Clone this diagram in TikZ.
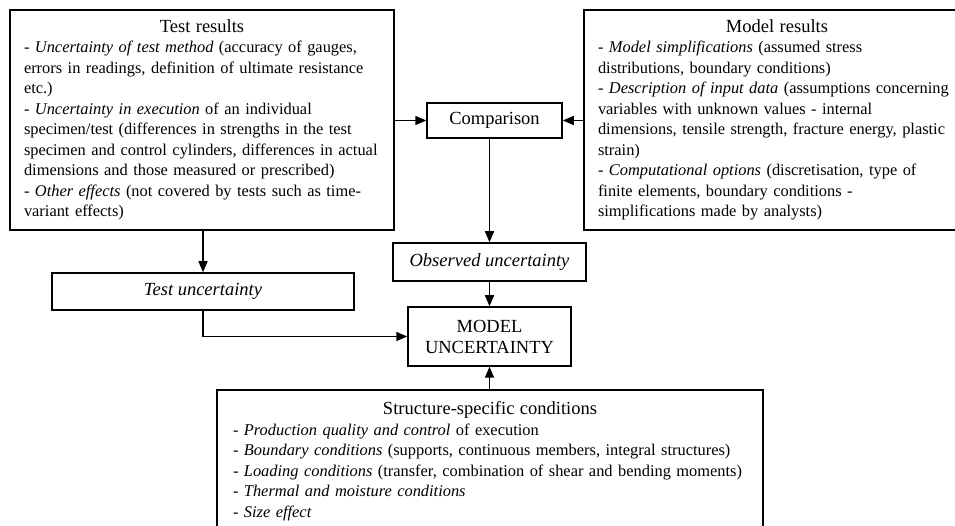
\documentclass[tikz,border=0pt]{standalone}
\usepackage{fontspec}
\setmainfont{Liberation Serif}
\usetikzlibrary{arrows.meta}
\newcommand{\boxtitle}[1]{{\centering\fontsize{18.5}{21}\selectfont #1\par}\noindent\ignorespaces}

\begin{document}
\begin{tikzpicture}[x=1pt, y=1pt,
      box/.style={draw, line width=1.5pt, rectangle, font=\fontsize{18.5}{21}\selectfont, align=center, inner sep=0pt},
      listbox/.style={draw, line width=1.5pt, rectangle, font=\fontsize{16.4}{20.5}\selectfont, align=left, inner xsep=14pt},
      link/.style={line width=1.5pt, -{Triangle[length=11pt, width=9pt]}}]
    \useasboundingbox (0,0) rectangle (955,526);
    \clip (0,0) rectangle (955,526);
    % sources
    \node[listbox, text width=356pt, minimum height=220pt] (test) at (202,406) {\boxtitle{Test results}%
      - \textit{Uncertainty of test method} (accuracy of gauges,\\
      errors in readings, definition of ultimate resistance\\
      etc.)\\
      - \textit{Uncertainty in execution} of an individual\\
      specimen/test (differences in strengths in the test\\
      specimen and control cylinders, differences in actual\\
      dimensions and those measured or prescribed)\\
      - \textit{Other effects} (not covered by tests such as time-\\
      variant effects)};
    \node[listbox, text width=358pt, minimum height=220pt] (model) at (777,406) {\boxtitle{Model results}%
      - \textit{Model simplifications} (assumed stress\\
      distributions, boundary conditions)\\
      - \textit{Description of input data} (assumptions concerning\\
      variables with unknown values - internal\\
      dimensions, tensile strength, fracture energy, plastic\\
      strain)\\
      - \textit{Computational options} (discretisation, type of\\
      finite elements, boundary conditions -\\
      simplifications made by analysts)};
    \node[listbox, text width=514pt, inner xsep=16pt, minimum height=142pt] (struct) at (490,65) {\boxtitle{Structure-specific conditions}%
      - \textit{Production quality and control} of execution\\
      - \textit{Boundary conditions} (supports, continuous members, integral structures)\\
      - \textit{Loading conditions} (transfer, combination of shear and bending moments)\\
      - \textit{Thermal and moisture conditions}\\
      - \textit{Size effect}};
    % intermediate boxes
    \node[box, minimum width=135pt, minimum height=35pt] (comp) at (494.5,405.5) {Comparison};
    \node[box, minimum width=193pt, minimum height=38pt] (obs) at (489.5,264) {\textit{Observed uncertainty}};
    \node[box, minimum width=302pt, minimum height=37pt] (testunc) at (203,234.5) {\textit{Test uncertainty}};
    \node[box, minimum width=163pt, minimum height=59pt] (mu) at (489.5,189.5) {MODEL\\UNCERTAINTY};
    % connectors
    \draw[link] (test.east |- comp) -- (comp.west);
    \draw[link] (model.west |- comp) -- (comp.east);
    \draw[link] (comp.south -| obs) -- (obs.north);
    \draw[link] (obs.south) -- (mu.north);
    \draw[link] (test.south -| testunc) -- (testunc.north);
    \draw[link] (testunc.south) |- (mu.west);
    \draw[link] (struct.north -| mu) -- (mu.south);
\end{tikzpicture}
\end{document}
